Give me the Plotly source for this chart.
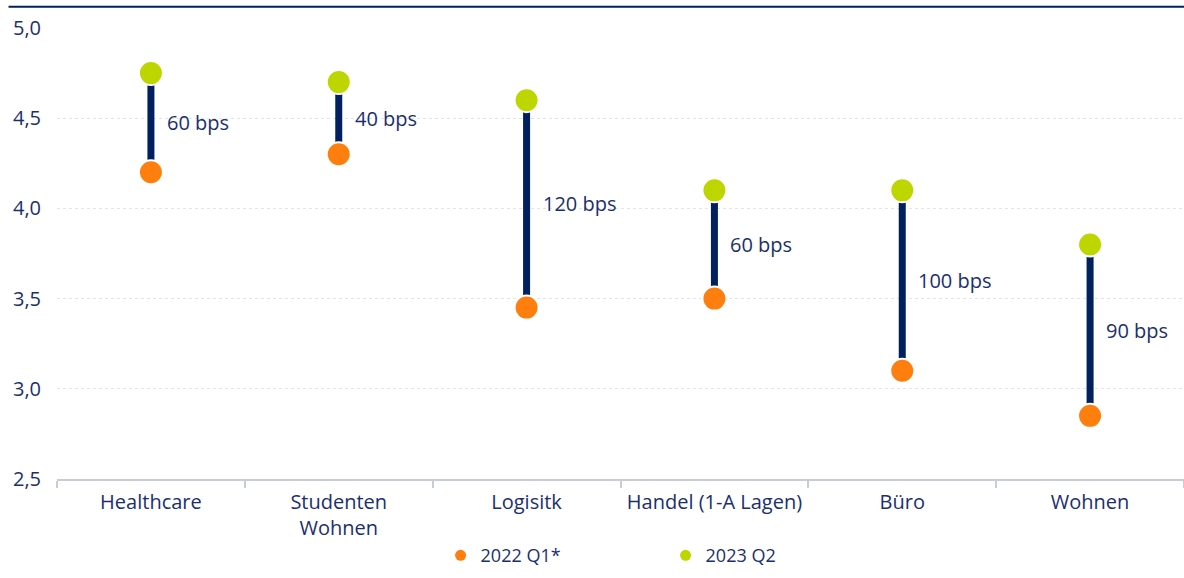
import plotly.graph_objects as go

categories = ["Healthcare", "Studenten<br>Wohnen", "Logisitk", "Handel (1-A Lagen)", "Büro", "Wohnen"]
q1_2022 = [4.20, 4.30, 3.45, 3.50, 3.10, 2.85]
q2_2023 = [4.75, 4.70, 4.60, 4.10, 4.10, 3.80]
bps_labels = ["60 bps", "40 bps", "120 bps", "60 bps", "100 bps", "90 bps"]
y_ticks = [2.5, 3.0, 3.5, 4.0, 4.5, 5.0]

NAVY = "#002060"
TEXT = "#1b2f6e"
ORANGE = "#ff7f0e"
GREEN = "#bed600"
FONT = "Open Sans"
FS = 20

fig = go.Figure()

# connecting lines
lx, ly = [], []
for c, a, b in zip(categories, q1_2022, q2_2023):
    lx += [c, c, None]
    ly += [a, b, None]
fig.add_trace(go.Scatter(x=lx, y=ly, mode="lines", line=dict(color=NAVY, width=7),
                         showlegend=False, hoverinfo="skip"))

fig.add_trace(go.Scatter(x=categories, y=q1_2022, mode="markers", name="2022 Q1*",
                         marker=dict(color=ORANGE, size=24, line=dict(color="white", width=2)),
                         showlegend=False))
fig.add_trace(go.Scatter(x=categories, y=q2_2023, mode="markers", name="2023 Q2",
                         marker=dict(color=GREEN, size=24, line=dict(color="white", width=2)),
                         showlegend=False))
# legend entries
fig.add_trace(go.Scatter(x=[None], y=[None], mode="markers", name="2022 Q1*",
                         marker=dict(color=ORANGE, size=11)))
fig.add_trace(go.Scatter(x=[None], y=[None], mode="markers", name="2023 Q2",
                         marker=dict(color=GREEN, size=11)))

for c, a, b, t in zip(categories, q1_2022, q2_2023, bps_labels):
    fig.add_annotation(x=c, y=(a + b) / 2, text=t, showarrow=False, xanchor="left",
                       xshift=14, font=dict(family=FONT, size=FS, color=TEXT))

fig.add_shape(type="line", xref="paper", yref="paper", x0=-0.043, x1=1.0, y0=1.047, y1=1.047,
              line=dict(color=NAVY, width=2))

fig.update_layout(
    width=1184, height=578,
    margin=dict(l=57, r=0, t=28, b=99),
    plot_bgcolor="white", paper_bgcolor="white",
    separators=",.",
    font=dict(family=FONT, size=FS, color=TEXT),
    showlegend=True,
    legend=dict(orientation="h", x=0.54, xanchor="center", y=-0.17, yanchor="middle",
                font=dict(family=FONT, size=18, color=TEXT), entrywidth=180,
                itemwidth=30),
    xaxis=dict(type="category", range=[-0.5, 5.5], showline=True, linecolor="#c8ccd4",
               linewidth=2, ticks="outside", tickson="boundaries", ticklen=7,
               tickcolor="#c8ccd4", tickwidth=2, showgrid=False, ticklabelstandoff=4,
               tickfont=dict(family=FONT, size=FS, color=TEXT)),
    yaxis=dict(range=[2.5, 5.0], tickvals=y_ticks, tickformat=".1f", showline=False,
               gridcolor="#dfe4ef", gridwidth=1, griddash="dot", zeroline=False,
               ticks="", ticklabelstandoff=15,
               tickfont=dict(family=FONT, size=FS, color=TEXT)),
)

fig.write_html("out.html")
